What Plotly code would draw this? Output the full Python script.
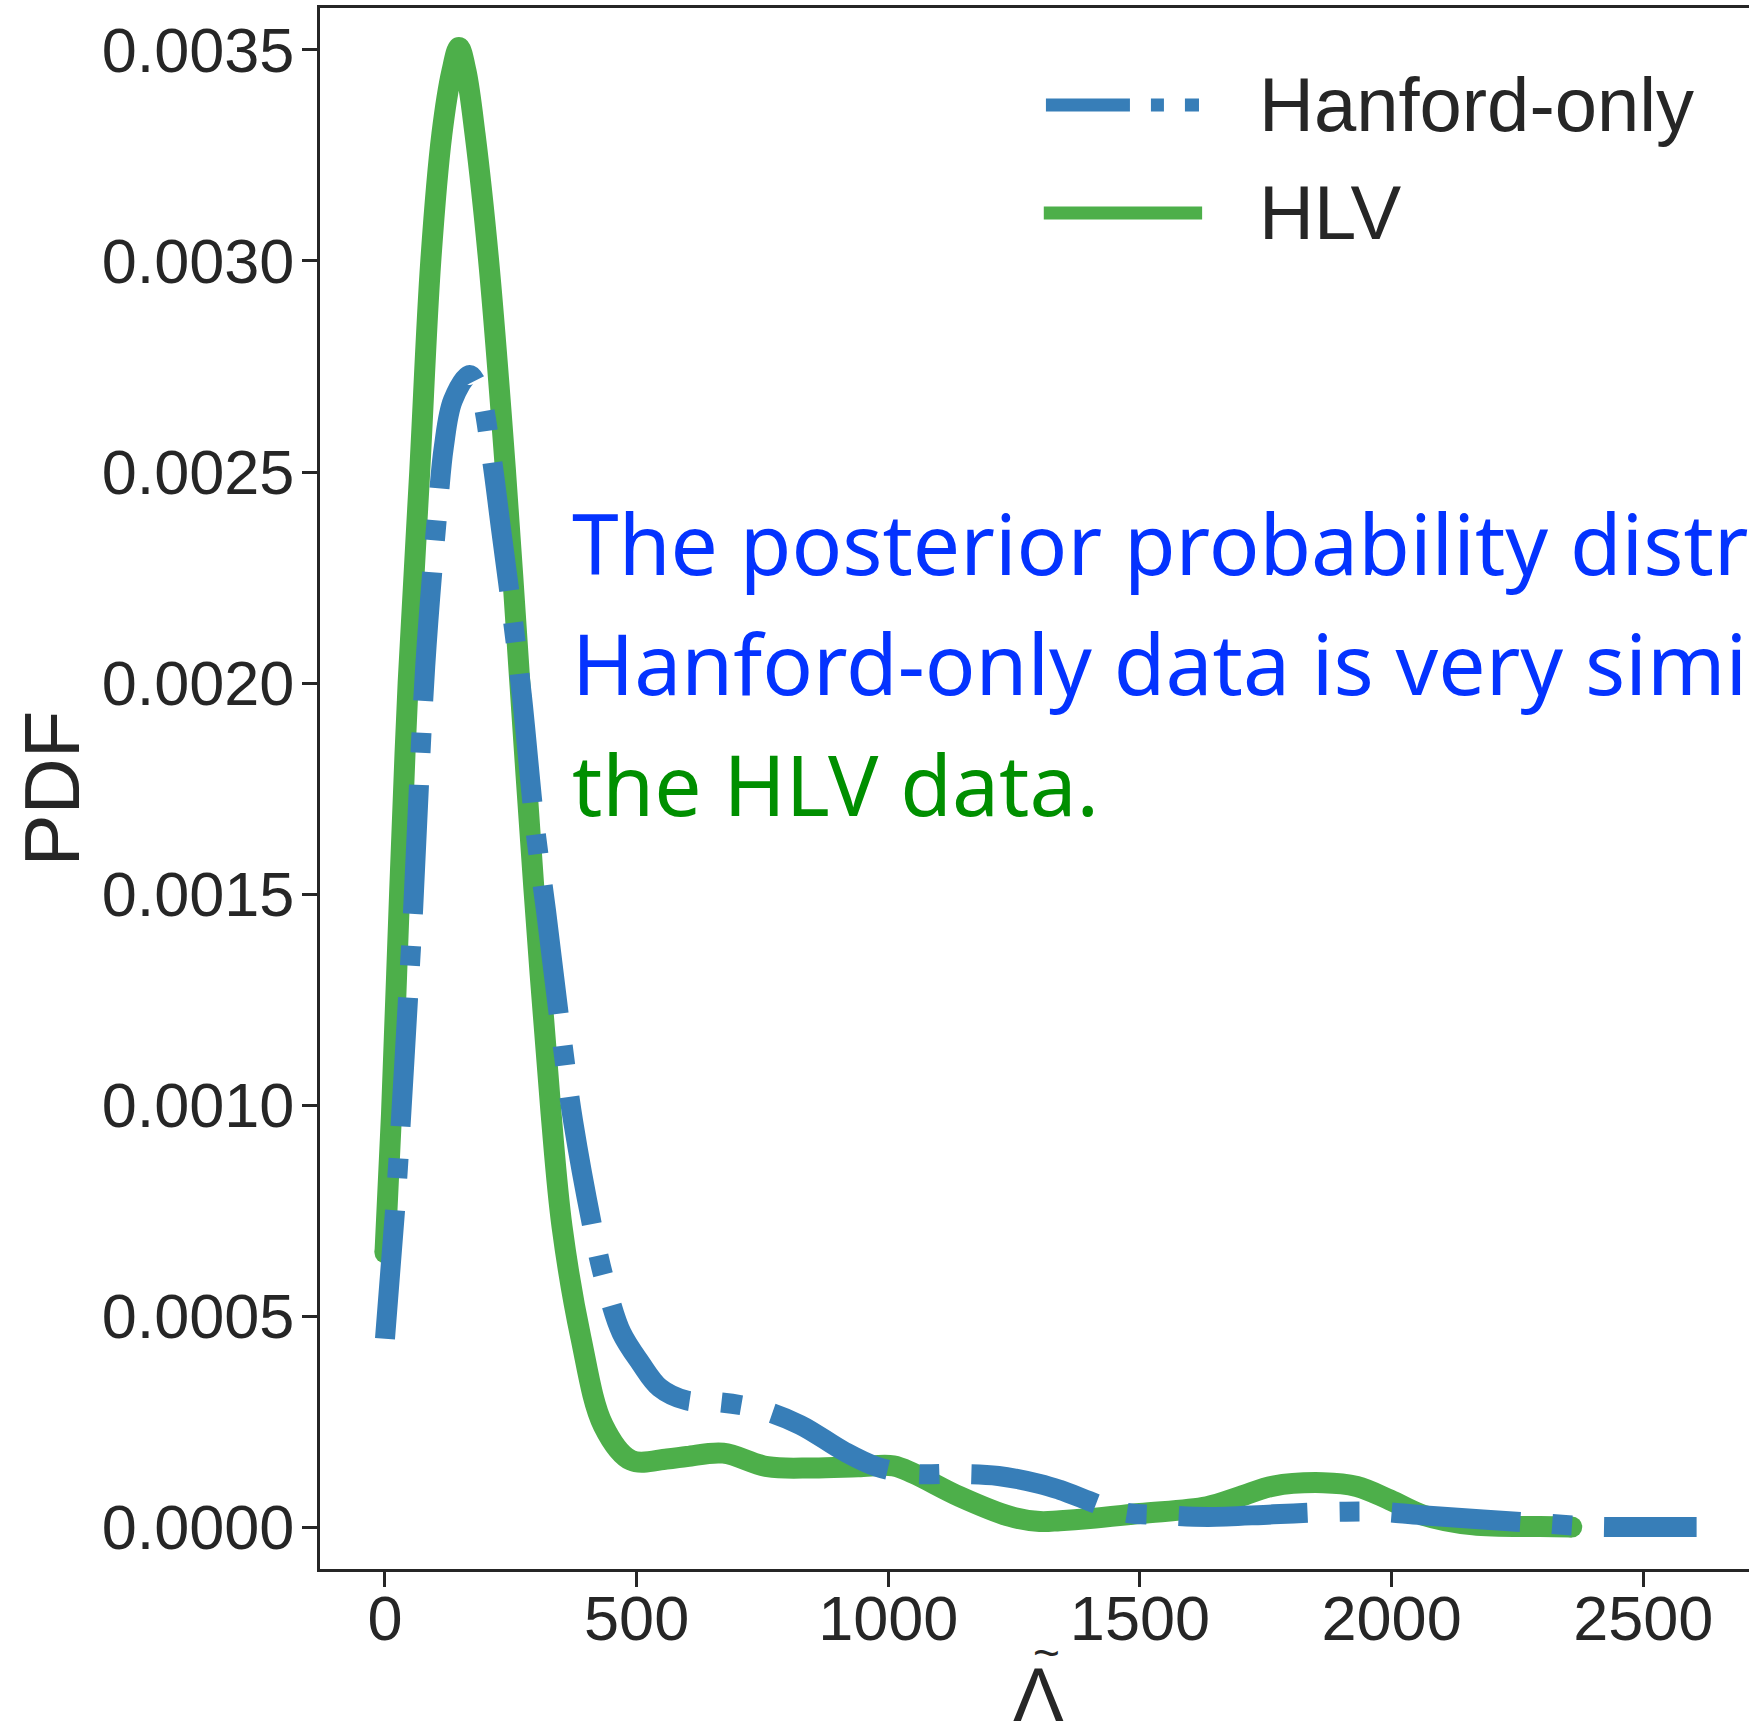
import plotly.graph_objects as go

# ---- data ----
hlv_x = [0, 13, 29, 46, 69, 91, 113, 133, 147, 161, 179, 206, 239, 268, 296, 330, 352, 389,
         434, 489, 560, 600, 672, 760, 851, 940, 1010, 1050, 1142, 1242, 1301, 1341, 1400,
         1500, 1633, 1699, 1765, 1864, 1931, 1997, 2063, 2162, 2295, 2358]
hlv_y = [0.000650, 0.000980, 0.001500, 0.002000, 0.002500, 0.003000, 0.003300, 0.003450,
         0.003506, 0.003450, 0.003300, 0.003000, 0.002510, 0.002000, 0.001510, 0.000980,
         0.000710, 0.000450, 0.000240, 0.000158, 0.000161, 0.000167, 0.000175, 0.000143,
         0.000140, 0.000143, 0.000145, 0.000127, 0.000072, 0.000025, 0.000013, 0.000015,
         0.000020, 0.000032, 0.000048, 0.000072, 0.000097, 0.000105, 0.000096, 0.000064,
         0.000028, 0.000005, 0.000001, 0.0]

hanford_x = [0, 20, 31, 46, 56, 80, 106, 117, 135, 168, 189, 210, 230, 252, 272, 298, 320,
             351, 374, 421, 442, 470, 507, 546, 599, 652, 738, 825, 911, 977, 1050, 1136,
             1219, 1301, 1341, 1464, 1550, 1636, 1765, 1891, 1977, 2060, 2295, 2400, 2500, 2606]
hanford_y = [0.000446, 0.000750, 0.000952, 0.001257, 0.001465, 0.002040, 0.002430, 0.002560,
             0.002670, 0.002730, 0.002687, 0.002550, 0.002370, 0.002170, 0.001970, 0.001660,
             0.001460, 0.001160, 0.000960, 0.000660, 0.000560, 0.000460, 0.000390, 0.000330,
             0.000300, 0.000297, 0.000281, 0.000242, 0.000180, 0.000143, 0.000126, 0.000126,
             0.000121, 0.000102, 0.000088, 0.000036, 0.000028, 0.000024, 0.000030, 0.000036,
             0.000036, 0.000028, 0.000009, 0.000001, 0.0, 0.0]

x_ticks = [0, 500, 1000, 1500, 2000, 2500]
y_ticks = [0.0, 0.0005, 0.0010, 0.0015, 0.0020, 0.0025, 0.0030, 0.0035]
y_tick_text = ["0.0000", "0.0005", "0.0010", "0.0015", "0.0020", "0.0025", "0.0030", "0.0035"]

series_names = ["Hanford-only", "HLV"]
note_lines = ["The posterior probability distribution of the",
              "Hanford-only data is very similar to",
              "the HLV data."]

# ---- styles ----
BLUE = "#377eb8"
GREEN = "#4daf4a"
TXT = "#262626"
FONT = "Liberation Sans, Arial, Helvetica, sans-serif"
NOTE_FONT = "Noto Sans, Liberation Sans, sans-serif"
GREEN_W = 21

fig = go.Figure()
# HLV (solid, round caps emulated by end markers)
fig.add_trace(go.Scatter(x=hlv_x, y=hlv_y, mode="lines", name=series_names[1],
                         line=dict(color=GREEN, width=GREEN_W, shape="spline", smoothing=1.0),
                         showlegend=False))
fig.add_trace(go.Scatter(x=[hlv_x[0], hlv_x[-1]], y=[hlv_y[0], hlv_y[-1]], mode="markers",
                         marker=dict(color=GREEN, size=GREEN_W, line=dict(width=0)),
                         showlegend=False, hoverinfo="skip"))
# Hanford-only (dash-dot), drawn on top
fig.add_trace(go.Scatter(x=hanford_x, y=hanford_y, mode="lines", name=series_names[0],
                         line=dict(color=BLUE, width=20, dash="129px,32px,20px,32px",
                                   shape="spline", smoothing=1.0),
                         showlegend=False))

fig.update_layout(
    width=1749, height=1723,
    margin=dict(l=320, r=0, t=8, b=154, pad=0),
    paper_bgcolor="white", plot_bgcolor="white",
    font=dict(family=FONT, color=TXT, size=63),
    showlegend=False,
)
fig.update_xaxes(range=[-129.1, 2710.1], tickvals=x_ticks, ticktext=[str(v) for v in x_ticks],
                 showgrid=False, zeroline=False, showline=True, linecolor=TXT, linewidth=3,
                 mirror=True, ticks="outside", ticklen=15, tickwidth=2.5, tickcolor=TXT,
                 ticklabelstandoff=-23,
                 tickfont=dict(size=63, color=TXT, family=FONT))
fig.update_yaxes(range=[-0.0000995, 0.0035995], tickvals=y_ticks, ticktext=y_tick_text,
                 showgrid=False, zeroline=False, showline=True, linecolor=TXT, linewidth=3,
                 ticks="outside", ticklen=15, tickwidth=2.5, tickcolor=TXT,
                 ticklabelstandoff=-5,
                 tickfont=dict(size=63, color=TXT, family=FONT))

# axis titles
fig.add_annotation(text="PDF", xref="paper", yref="paper", x=-0.1882, y=0.5,
                   xanchor="center", yanchor="middle", textangle=-90, showarrow=False,
                   font=dict(size=78, color=TXT, family=FONT))
fig.add_annotation(text="\u039b", xref="paper", yref="paper", x=0.5031, y=-0.0804,
                   xanchor="center", yanchor="middle", showarrow=False,
                   font=dict(size=76, color=TXT, family=FONT))
fig.add_annotation(text="~", xref="paper", yref="paper", x=0.5087, y=-0.0538,
                   xanchor="center", yanchor="middle", showarrow=False,
                   font=dict(size=46, color=TXT, family=FONT))

# legend (drawn by hand to match long handles)
fig.add_shape(type="line", xref="paper", yref="paper", x0=0.508, x1=0.6151, y0=0.9379, y1=0.9379,
              line=dict(color=BLUE, width=13, dash="84px,21px,13px,21px"))
fig.add_shape(type="line", xref="paper", yref="paper", x0=0.5065, x1=0.6173, y0=0.8687, y1=0.8687,
              line=dict(color=GREEN, width=13))
fig.add_annotation(text=series_names[0], xref="paper", yref="paper", x=0.656, y=0.9385,
                   xanchor="left", yanchor="middle", showarrow=False,
                   font=dict(size=76, color=TXT, family=FONT))
fig.add_annotation(text=series_names[1], xref="paper", yref="paper", x=0.656, y=0.869,
                   xanchor="left", yanchor="middle", showarrow=False,
                   font=dict(size=76, color=TXT, family=FONT))

# note text
note_colors = ["#0433FF", "#0433FF", "#008F00"]
note_y = [0.6573, 0.5804, 0.5035]
for line, col, yy in zip(note_lines, note_colors, note_y):
    fig.add_annotation(text=line, xref="paper", yref="paper", x=0.175, y=yy,
                       xanchor="left", yanchor="middle", showarrow=False,
                       font=dict(size=84, color=col, family=NOTE_FONT))

fig.write_html("out.html")
